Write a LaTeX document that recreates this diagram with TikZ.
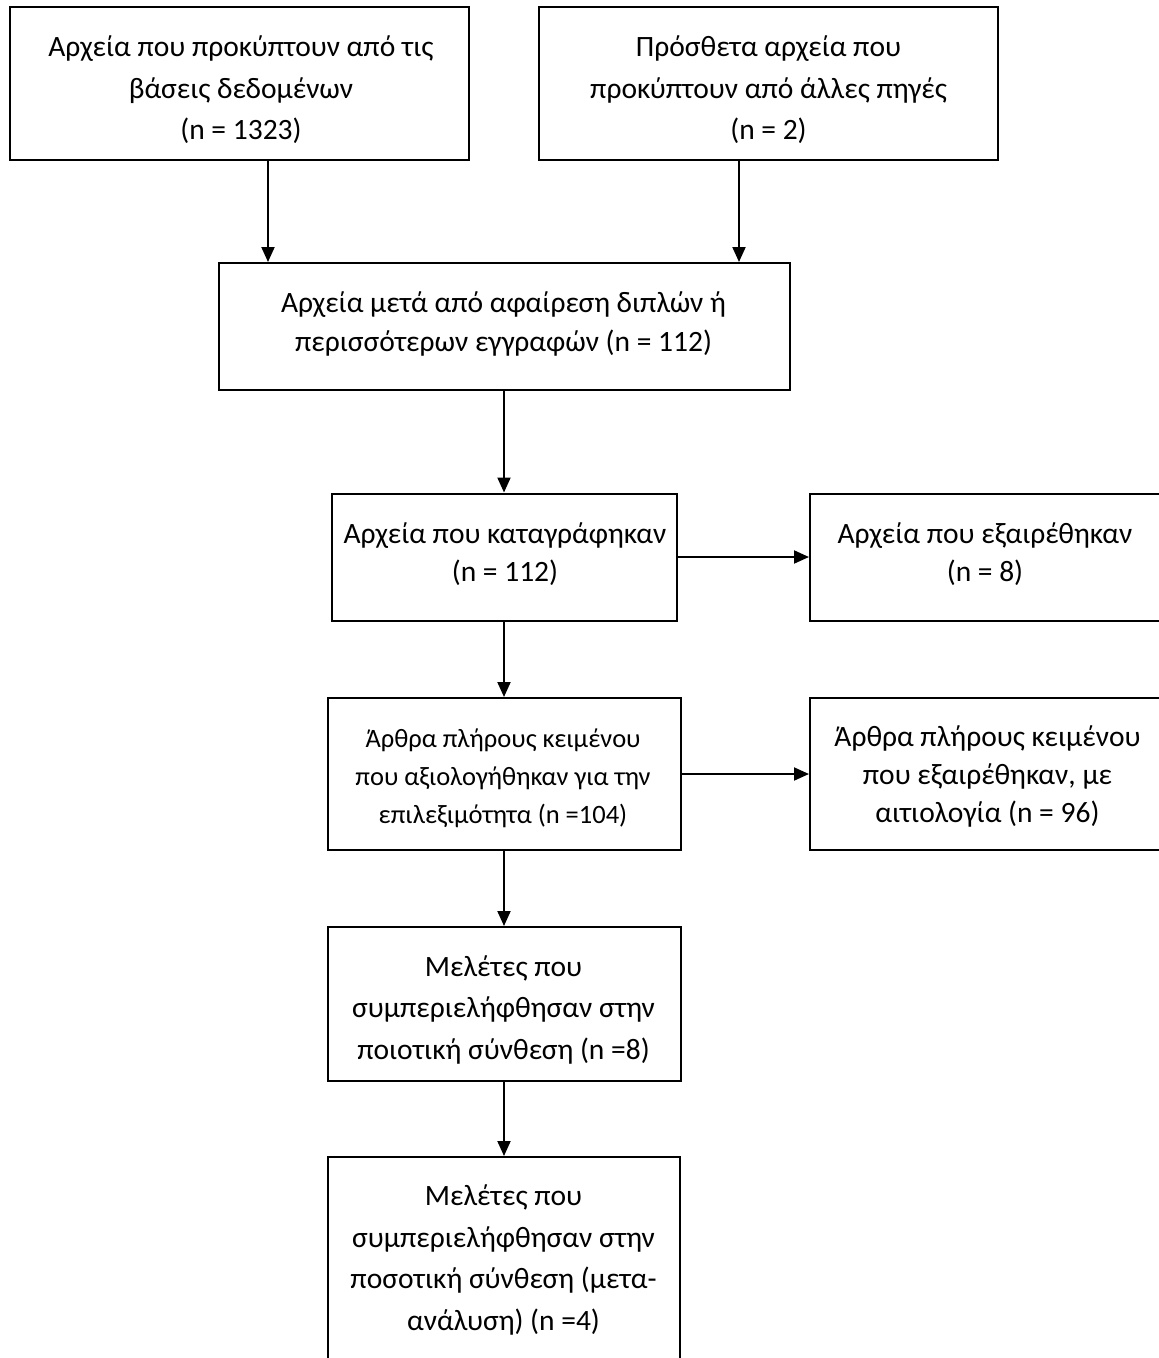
\documentclass[tikz,border=0pt]{standalone}
\usepackage{fontspec}
\setmainfont{Carlito}
\usetikzlibrary{arrows.meta}
\begin{document}
\begin{tikzpicture}[x=1pt,y=-1pt,
  box/.style={draw, line width=2pt, inner sep=0pt},
  bigA/.style={font=\fontsize{29.5}{41.5}\selectfont, align=center, inner sep=0pt},
  bigB/.style={font=\fontsize{29.5}{38.2}\selectfont, align=center, inner sep=0pt},
  smallF/.style={font=\fontsize{26.5}{38}\selectfont, align=center, inner sep=0pt},
  arr/.style={line width=2pt, -{Triangle[length=15pt,width=13pt]}}]
\useasboundingbox (0,0) rectangle (1159,1358);
\clip (0,0) rectangle (1159,1358);

% boxes
\node[box, minimum width=459pt, minimum height=153pt] (a) at (239.5,83.5) {};
\node[box, minimum width=459pt, minimum height=153pt] (b) at (768.5,83.5) {};
\node[box, minimum width=571pt, minimum height=127pt] (c) at (504,326.5) {};
\node[box, minimum width=345pt, minimum height=127pt] (d) at (504,557) {};
\node[box, minimum width=353pt, minimum height=127pt] (e) at (986.5,557) {};
\node[box, minimum width=353pt, minimum height=152pt] (f) at (504,774) {};
\node[box, minimum width=353pt, minimum height=152pt] (g) at (986.5,774) {};
\node[box, minimum width=353pt, minimum height=154pt] (h) at (504,1004) {};
\node[box, minimum width=352pt, minimum height=218pt] (i) at (504,1266) {};

% texts
\node[bigA] (at) at (241,90) {Αρχεία που προκύπτουν από τις\\βάσεις δεδομένων\\(n = 1323)};
\node[bigA] (bt) at (768.5,90) {Πρόσθετα αρχεία που\\προκύπτουν από άλλες πηγές\\(n = 2)};
\node[bigB] (ct) at (503.5,324) {Αρχεία μετά από αφαίρεση διπλών ή\\περισσότερων εγγραφών (n = 112)};
\node[bigB] (dt) at (505,554) {Αρχεία που καταγράφηκαν\\(n = 112)};
\node[bigB] (et) at (985,554) {Αρχεία που εξαιρέθηκαν\\(n = 8)};
\node[smallF] (ft) at (503,778) {Άρθρα πλήρους κειμένου\\που αξιολογήθηκαν για την\\επιλεξιμότητα (n =104)};
\node[bigB] (gt) at (987.5,776.5) {Άρθρα πλήρους κειμένου\\που εξαιρέθηκαν, με\\αιτιολογία (n = 96)};
\node[bigA] (ht) at (503.5,1009.5) {Μελέτες που\\συμπεριελήφθησαν στην\\ποιοτική σύνθεση (n =8)};
\node[bigA] (it) at (503.5,1260) {Μελέτες που\\συμπεριελήφθησαν στην\\ποσοτική σύνθεση (μετα-\\ανάλυση) (n =4)};

% connectors
\draw[arr] ([xshift=28.5pt]a.south) -- ([xshift=28.5pt]a.south |- c.north);
\draw[arr] ([xshift=-29.5pt]b.south) -- ([xshift=-29.5pt]b.south |- c.north);
\draw[arr] (c.south) -- (c.south |- d.north);
\draw[arr] (d.east) -- (d.east -| e.west);
\draw[arr] (d.south) -- (d.south |- f.north);
\draw[arr] (f.east) -- (f.east -| g.west);
\draw[arr] (f.south) -- (f.south |- h.north);
\draw[arr] (h.south) -- (h.south |- i.north);
\end{tikzpicture}
\end{document}
